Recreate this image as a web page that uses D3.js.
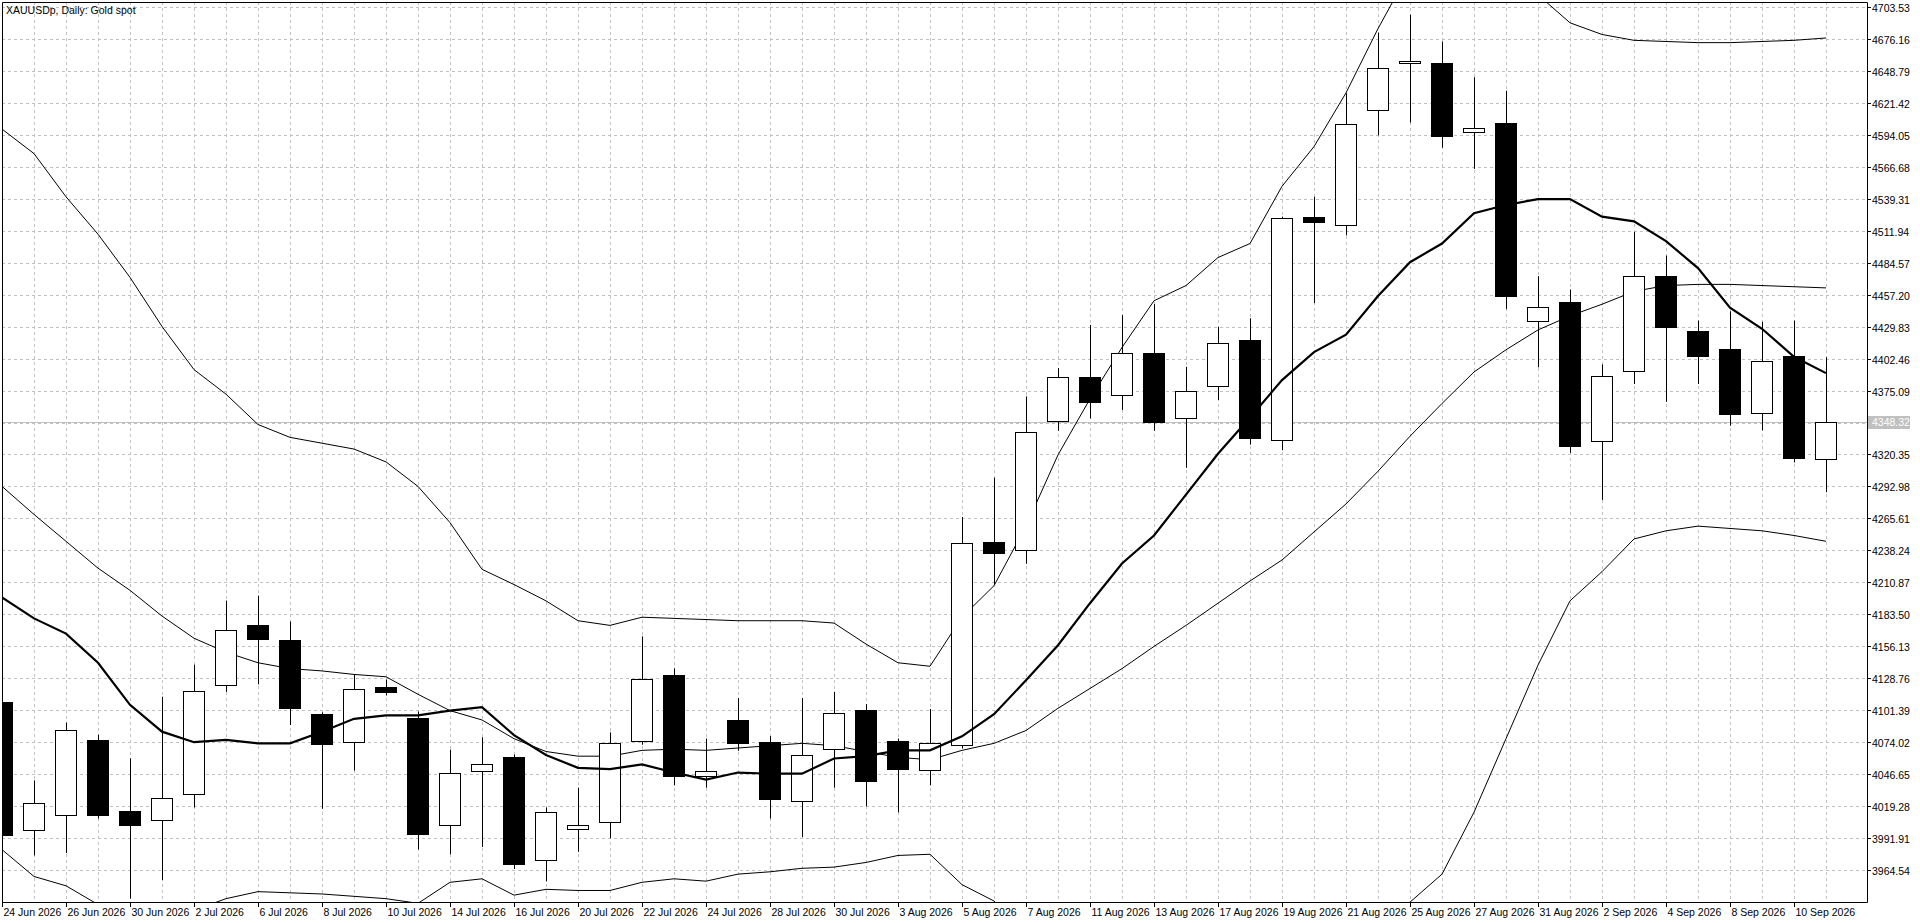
<!DOCTYPE html>
<html><head><meta charset="utf-8">
<script src="https://cdn.jsdelivr.net/npm/d3@7"></script>
<style>body{margin:0;background:#fff;overflow:hidden}svg{display:block}text{font-family:"Liberation Sans",Arial,sans-serif;font-size:10.5px;fill:#000}</style>
</head><body><svg id="c" width="1920" height="923"></svg>
<script>
const dates=["24 Jun 2026","25 Jun 2026","26 Jun 2026","29 Jun 2026","30 Jun 2026","1 Jul 2026","2 Jul 2026","3 Jul 2026","6 Jul 2026","7 Jul 2026","8 Jul 2026","9 Jul 2026","10 Jul 2026","13 Jul 2026","14 Jul 2026","15 Jul 2026","16 Jul 2026","17 Jul 2026","20 Jul 2026","21 Jul 2026","22 Jul 2026","23 Jul 2026","24 Jul 2026","27 Jul 2026","28 Jul 2026","29 Jul 2026","30 Jul 2026","31 Jul 2026","3 Aug 2026","4 Aug 2026","5 Aug 2026","6 Aug 2026","7 Aug 2026","10 Aug 2026","11 Aug 2026","12 Aug 2026","13 Aug 2026","14 Aug 2026","17 Aug 2026","18 Aug 2026","19 Aug 2026","20 Aug 2026","21 Aug 2026","24 Aug 2026","25 Aug 2026","26 Aug 2026","27 Aug 2026","28 Aug 2026","31 Aug 2026","1 Sep 2026","2 Sep 2026","3 Sep 2026","4 Sep 2026","7 Sep 2026","8 Sep 2026","9 Sep 2026","10 Sep 2026","11 Sep 2026"];
const open=[4108.7,3999.1,4011.8,4076.1,4014.9,4007.5,4029.7,4122.4,4174.1,4161.4,4098.2,4073.9,4121.4,4095,4003.3,4048.6,4061.3,3972.8,4000.2,4005.4,4075,4131.9,4045.5,4092.9,4073.9,4024.4,4068.7,4101.4,4075,4049.7,4071.8,4245.7,4238.4,4349,4387,4371.2,4407,4351.1,4378.6,4418.3,4332.4,4523.4,4517,4615.6,4655,4655.6,4596.7,4604.3,4435,4451.3,4331.5,4391.4,4473,4426.5,4411,4355.6,4404.5,4317];
const high=[4112,4041.3,4090.8,4080.3,4060.2,4112.9,4140.3,4195.2,4199.4,4177.3,4099.5,4131.9,4127.7,4100.3,4067.6,4078.2,4063.4,4018.1,4035,4082.4,4164.6,4137.2,4077.1,4111.9,4079.2,4111.9,4117.1,4106.6,4077.1,4102.4,4266.8,4300.5,4370.1,4394.3,4431.2,4439.7,4449.1,4395.4,4429.6,4437,4524,4541,4629.7,4681.6,4696.9,4674,4643.4,4631.8,4473,4461.6,4397.5,4511,4490.7,4435,4443,4434,4435,4403.6];
const low=[3990,3977,3979.1,4008.6,3940.1,3955.9,4018.1,4117.1,4123.5,4088.7,4017,4049.7,4114,3982.2,3978,3984.3,3965.4,3954.8,3980.1,3991.7,4071.8,4037.1,4035,4066.6,4008.6,3992.8,4035,4019.1,4013.9,4037.1,4068.7,4208.9,4226.8,4340.6,4351.1,4358.5,4340.6,4309,4367,4328.8,4324,4450,4508,4593.6,4604.6,4583,4564.9,4444.8,4395,4321.7,4281.4,4380.7,4365.4,4380.7,4345,4341,4313.5,4288];
const close=[3994.9,4022.3,4084.5,4011.8,4003.3,4026.5,4118.2,4169.9,4162.5,4103.5,4072.9,4119.3,4117.1,3996,4047.6,4055,3969.6,4013.9,4003.3,4072.9,4127.7,4045.5,4049.7,4072.9,4025.5,4063.4,4099.3,4040.2,4050.8,4072.9,4244.7,4236.3,4339.5,4387,4365.9,4407,4348,4374.3,4415.8,4334,4522.7,4519,4603.7,4651.7,4657,4593,4600,4456.1,4447,4327.8,4387.4,4473,4429.6,4405,4355.3,4400.5,4317,4348.32];
const maLine=[4198,4180,4167,4142,4106,4083,4074,4076,4073,4073,4083,4094,4097,4097,4101,4104,4080,4063,4052,4051,4055,4048,4042,4048,4047,4047,4060,4062,4067,4067,4079,4098,4127,4157,4193,4227,4251,4286,4321,4352,4384,4408,4423,4456,4485,4501,4527,4534,4539,4539,4524,4520,4503,4480,4446,4428,4404,4390];
const bandUpper=[4599,4578,4541,4509,4472,4430,4393,4372,4346,4335,4330,4325,4314,4293,4262,4222,4209,4195,4178,4174,4181,4180,4179,4178,4178,4178,4176,4158,4142,4139,4181,4208,4259,4320,4368,4412,4452,4465,4489,4501,4550,4584,4630,4685,4735,4767,4768,4743,4714,4690,4680,4675,4674,4673,4673,4674,4675,4677];
const bandMiddle=[4293,4269,4246,4223,4204,4182,4163,4151,4142,4137,4135,4132,4130,4115,4101,4093,4077,4066,4062,4062,4067,4068,4067,4069,4071,4073,4071,4066,4061,4059,4067,4073,4084,4103,4120,4137,4156,4174,4193,4212,4230,4254,4278,4306,4336,4364,4391,4410,4427,4439,4449,4460,4465,4466,4466,4465,4464,4463];
const bandLower=[3982,3959,3951,3935,3925,3920,3930,3940,3946,3945,3944,3942,3940,3936,3954,3957,3943,3948,3947,3947,3954,3957,3955,3961,3963,3966,3967,3971,3977,3978,3952,3938,3909,3886,3872,3862,3860,3883,3897,3923,3910,3924,3926,3927,3937,3961,4014,4077,4140,4195,4220,4248,4255,4259,4257,4255,4251,4246];
const priceTicks=["4703.53","4676.16","4648.79","4621.42","4594.05","4566.68","4539.31","4511.94","4484.57","4457.20","4429.83","4402.46","4375.09","4347.72","4320.35","4292.98","4265.61","4238.24","4210.87","4183.50","4156.13","4128.76","4101.39","4074.02","4046.65","4019.28","3991.91","3964.54"];
const currentPrice=4348.32;
const title="XAUUSDp, Daily:  Gold spot";

const L=2,R=1867,T=2,B=902;
const svg=d3.select("#c");
const x=d3.scaleLinear().domain([0,1]).range([2,34]);
const y=d3.scaleLinear().domain([3964.54,4703.53]).range([870,7]);
svg.append("defs").append("clipPath").attr("id","clip").append("rect").attr("x",L).attr("y",T).attr("width",R-L).attr("height",B-T);
const g=svg.append("g").attr("clip-path","url(#clip)");
// grid
g.selectAll(".hg").data(priceTicks).join("line").attr("x1",L).attr("x2",R)
 .attr("y1",d=>Math.round(y(+d))+0.5).attr("y2",d=>Math.round(y(+d))+0.5)
 .attr("stroke","#c0c0c0").attr("stroke-dasharray","3,3");
g.selectAll(".vg").data(dates).join("line").attr("y1",T).attr("y2",B)
 .attr("x1",(d,i)=>Math.round(x(i))+0.5).attr("x2",(d,i)=>Math.round(x(i))+0.5)
 .attr("stroke","#c0c0c0").attr("stroke-dasharray","3,3");
// current price line
g.append("line").attr("x1",L).attr("x2",R).attr("y1",Math.round(y(currentPrice))+0.5).attr("y2",Math.round(y(currentPrice))+0.5).attr("stroke","#c0c0c0");
// bands
const ln=d3.line().x((d,i)=>x(i)).y(d=>y(d));
[bandUpper,bandMiddle,bandLower].forEach(a=>g.append("path").attr("d",ln(a)).attr("fill","none").attr("stroke","#000").attr("stroke-width",1));
// candles
const idx=d3.range(dates.length);
g.selectAll(".w").data(idx).join("line").attr("x1",i=>Math.round(x(i))+0.5).attr("x2",i=>Math.round(x(i))+0.5)
 .attr("y1",i=>y(high[i])).attr("y2",i=>y(low[i])).attr("stroke","#000");
g.selectAll(".b").data(idx).join("rect")
 .attr("x",i=>Math.round(x(i))-10.5).attr("width",21)
 .attr("y",i=>Math.round(y(Math.max(open[i],close[i])))+0.5)
 .attr("height",i=>Math.max(1,Math.round(Math.abs(y(open[i])-y(close[i])))))
 .attr("fill",i=>close[i]>=open[i]?"#fff":"#000").attr("stroke","#000");
// MA
g.append("path").attr("d",ln(maLine)).attr("fill","none").attr("stroke","#000").attr("stroke-width",2.2);
// frame
svg.append("path").attr("d",`M${L+0.5},${B}V${T+0.5}H${R+0.5}V${B+0.5}H${L}`).attr("fill","none").attr("stroke","#000");
// right axis
const ya=svg.append("g");
priceTicks.forEach(t=>{const yy=Math.round(y(+t))+0.5;
 if(t==="4347.72")return;
 ya.append("line").attr("x1",R).attr("x2",R+4).attr("y1",yy).attr("y2",yy).attr("stroke","#000");
 ya.append("text").attr("x",R+5).attr("y",yy+4).text(t);});
const cy=Math.round(y(currentPrice));
ya.append("rect").attr("x",R+1).attr("y",cy-6).attr("width",42).attr("height",13).attr("fill","#c0c0c0");
ya.append("text").attr("x",R+5).attr("y",cy+4).style("fill","#fff").text(currentPrice.toFixed(2));
// bottom axis
idx.filter(i=>i%2===0).forEach(i=>{const xx=Math.round(x(i))+0.5;
 svg.append("line").attr("x1",xx).attr("x2",xx).attr("y1",B).attr("y2",B+5).attr("stroke","#000");
 svg.append("text").attr("x",xx+1).attr("y",B+14).text(dates[i]);});
svg.append("text").attr("x",6).attr("y",14).text(title);
</script></body></html>
